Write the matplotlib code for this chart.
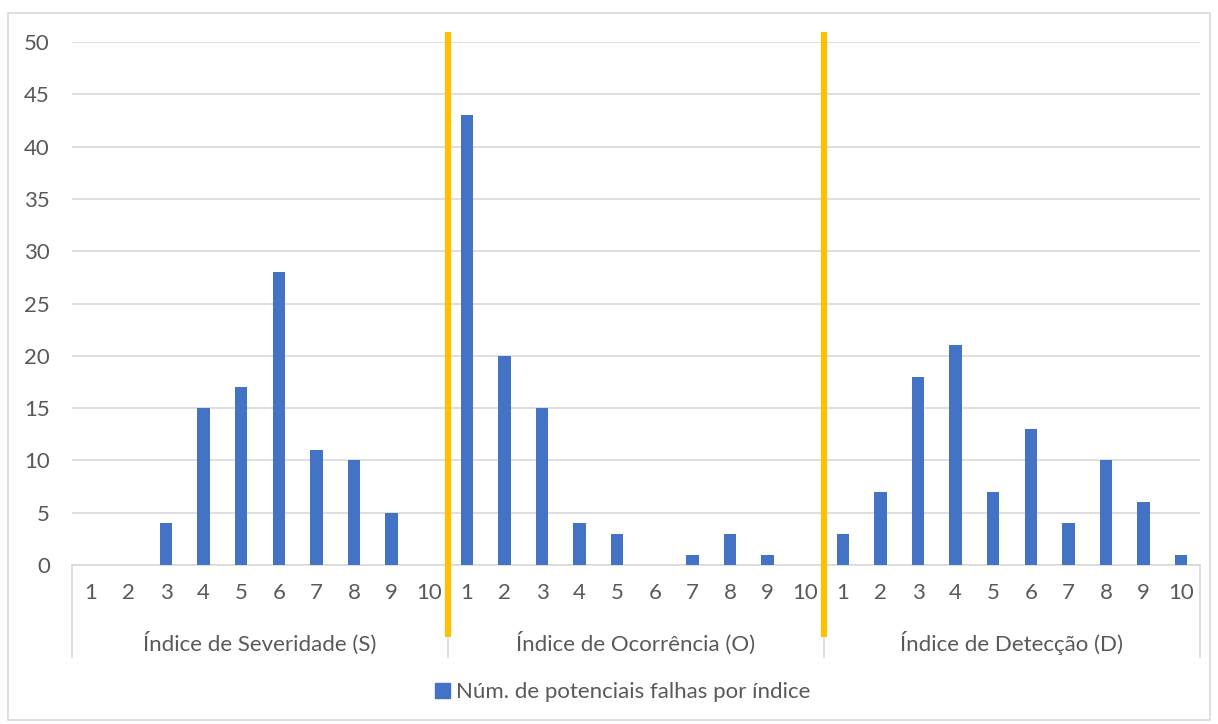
import matplotlib.pyplot as plt
import matplotlib.transforms as mtransforms
from matplotlib.patches import Rectangle, Patch
from matplotlib.lines import Line2D

# Count of potential failures for each index value (1..10) in each group
indices = [str(i) for i in range(1, 11)]
groups = ['Índice de Severidade (S)', 'Índice de Ocorrência (O)', 'Índice de Detecção (D)']
severidade = [0, 0, 4, 15, 17, 28, 11, 10, 5, 0]
ocorrencia = [43, 20, 15, 4, 3, 0, 1, 3, 1, 0]
deteccao = [3, 7, 18, 21, 7, 13, 4, 10, 6, 1]
series_name = 'Núm. de potenciais falhas por índice'

values = severidade + ocorrencia + deteccao
labels = indices * len(groups)

W, H = 1218, 724
plt.rcParams['font.family'] = ['Lato', 'DejaVu Sans']
text_color = '#595959'
grid_color = '#D9D9D9'
fs = 16

fig = plt.figure(figsize=(W / 100, H / 100), dpi=100)
ax = fig.add_axes([72 / W, (H - 565) / H, (1200 - 72) / W, (565 - 42) / H])

x = list(range(len(values)))
ax.bar(x, values, width=0.33, color='#4472C4', zorder=3)

ax.set_xlim(-0.5, len(values) - 0.5)
ax.set_ylim(0, 50)
ax.set_yticks(range(0, 51, 5))
ax.set_xticks(x)
ax.set_xticklabels(labels)
ax.tick_params(axis='both', length=0, labelsize=fs, colors=text_color)
ax.tick_params(axis='x', pad=13)
ax.tick_params(axis='y', pad=16)
ax.grid(axis='y', color=grid_color, linewidth=1.2, zorder=0)
for side in ['left', 'right', 'top']:
    ax.spines[side].set_visible(False)
ax.spines['bottom'].set_color(grid_color)
ax.spines['bottom'].set_linewidth(1.2)

# multi-level category axis: group labels and separators
blend = mtransforms.blended_transform_factory(ax.transData, fig.transFigure)
n = len(indices)
for g, name in enumerate(groups):
    ax.text(g * n + (n - 1) / 2, (H - 643) / H, name, transform=blend,
            ha='center', va='center', fontsize=fs, color=text_color)
for b in range(len(groups) + 1):
    fig.add_artist(Line2D([b * n - 0.5, b * n - 0.5], [(H - 565) / H, (H - 657) / H],
                          transform=blend, color=grid_color, linewidth=1.2))

# yellow dividers between the groups
for b in range(1, len(groups)):
    fig.add_artist(Line2D([b * n - 0.5, b * n - 0.5], [(H - 32) / H, (H - 637) / H],
                          transform=blend, color='#FFC000', linewidth=4.5,
                          solid_capstyle='butt', zorder=5))

fig.legend(handles=[Patch(color='#4472C4', label=series_name)],
           loc='center', bbox_to_anchor=(623 / W, (H - 692) / H),
           frameon=False, fontsize=fs, labelcolor=text_color,
           handlelength=0.65, handleheight=0.65, handletextpad=0.3)

# chart area border
fig.add_artist(Rectangle((8 / W, 4 / H), (1210 - 8) / W, (711 - 4) / H,
                         transform=fig.transFigure, fill=False,
                         edgecolor=grid_color, linewidth=1.2))

fig.savefig('out.png', dpi=100)
